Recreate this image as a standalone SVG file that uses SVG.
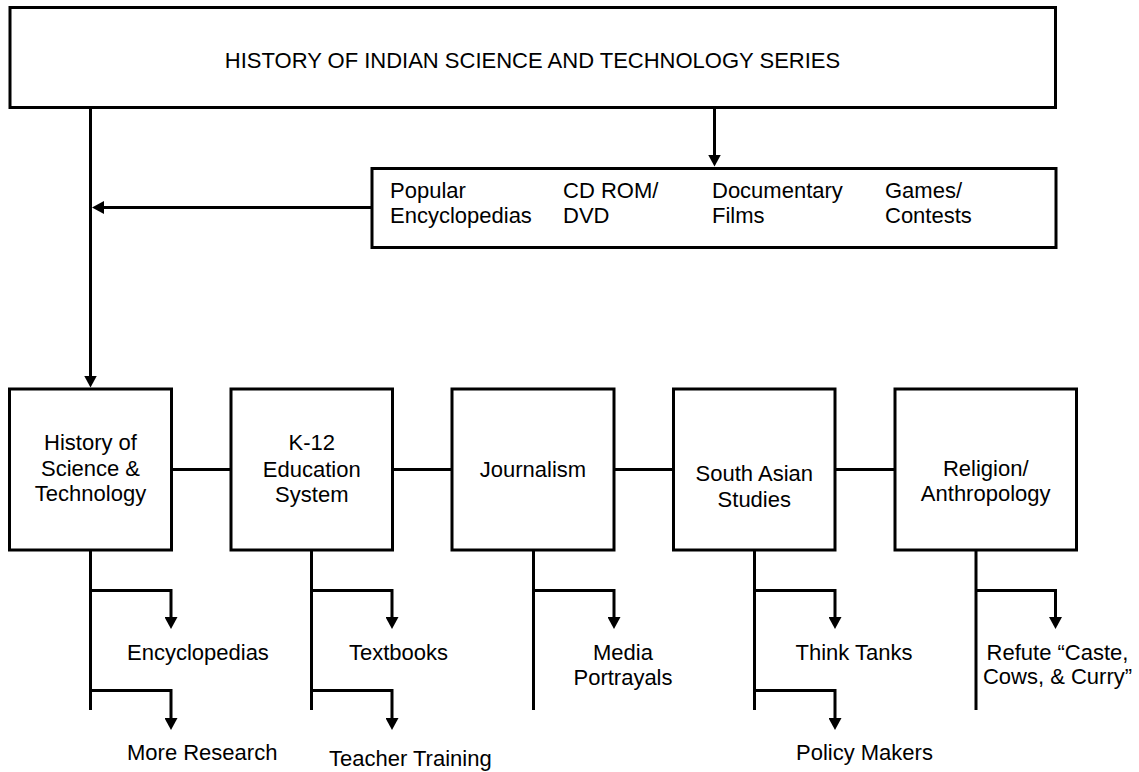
<svg xmlns="http://www.w3.org/2000/svg" width="1139" height="772" viewBox="0 0 1139 772">
<style>
  .box { fill: #fff; stroke: #000; stroke-width: 3; }
  .t { font-family: "Liberation Sans", Arial, sans-serif; font-size: 22px; fill: #000; }
  .c { text-anchor: middle; }
  .ln { fill: none; stroke: #000; stroke-width: 3; stroke-linejoin: miter; }
</style>
<defs>
  <marker id="arr" viewBox="0 0 12 13" refX="1" refY="6.5" markerWidth="12" markerHeight="13" markerUnits="userSpaceOnUse" orient="auto">
    <path d="M0,0 L12,6.5 L0,13 z" fill="#000"/>
  </marker>
</defs>
<rect width="1139" height="772" fill="#fff"/>
<g id="connectors">
  <path class="ln" d="M90.5,107 V376.5" marker-end="url(#arr)"/>
  <path class="ln" d="M714.5,107 V155.5" marker-end="url(#arr)"/>
  <path class="ln" d="M372,207.5 H103" marker-end="url(#arr)"/>
  <path class="ln" d="M171,469.5 H231 M392.5,469.5 H452 M614,469.5 H673.5 M835,469.5 H895"/>
  <path class="ln" d="M90.5,550 V710 M311.5,550 V710 M533.5,550 V710 M754.5,550 V710 M976,550 V710"/>
  <path class="ln" d="M90.5,590.5 H171 V618" marker-end="url(#arr)"/>
  <path class="ln" d="M90.5,690.5 H171 V719" marker-end="url(#arr)"/>
  <path class="ln" d="M311.5,590.5 H392 V618" marker-end="url(#arr)"/>
  <path class="ln" d="M311.5,690.5 H392 V719" marker-end="url(#arr)"/>
  <path class="ln" d="M533.5,590.5 H614 V618" marker-end="url(#arr)"/>
  <path class="ln" d="M754.5,590.5 H835 V618" marker-end="url(#arr)"/>
  <path class="ln" d="M754.5,690.5 H835 V719" marker-end="url(#arr)"/>
  <path class="ln" d="M976,590.5 H1055.5 V618" marker-end="url(#arr)"/>
</g>
<g id="series">
  <rect class="box" x="10" y="7.5" width="1045.5" height="100"/>
  <text class="t c" x="532.5" y="68">HISTORY OF INDIAN SCIENCE AND TECHNOLOGY SERIES</text>
</g>
<g id="media">
  <rect class="box" x="372" y="168.5" width="684" height="79"/>
  <text class="t" x="390" y="198">Popular</text>
  <text class="t" x="390" y="222.5">Encyclopedias</text>
  <text class="t" x="563" y="198">CD ROM/</text>
  <text class="t" x="563" y="222.5">DVD</text>
  <text class="t" x="712" y="198">Documentary</text>
  <text class="t" x="712" y="222.5">Films</text>
  <text class="t" x="885" y="198">Games/</text>
  <text class="t" x="885" y="222.5">Contests</text>
</g>
<g id="hist">
  <rect class="box" x="9.5" y="389" width="162" height="161"/>
  <text class="t c" x="90.5" y="450">History of</text>
  <text class="t c" x="90.5" y="476">Science &amp;</text>
  <text class="t c" x="90.5" y="501">Technology</text>
</g>
<g id="k12">
  <rect class="box" x="231" y="389" width="161.5" height="161"/>
  <text class="t c" x="311.8" y="450">K-12</text>
  <text class="t c" x="311.8" y="476.5">Education</text>
  <text class="t c" x="311.8" y="501.5">System</text>
</g>
<g id="journalism">
  <rect class="box" x="452" y="389" width="162" height="161"/>
  <text class="t c" x="533" y="476.5">Journalism</text>
</g>
<g id="southasian">
  <rect class="box" x="673.5" y="389" width="161.5" height="161"/>
  <text class="t c" x="754.3" y="481">South Asian</text>
  <text class="t c" x="754.3" y="507">Studies</text>
</g>
<g id="religion">
  <rect class="box" x="895" y="389" width="181.5" height="161"/>
  <text class="t c" x="985.7" y="476">Religion/</text>
  <text class="t c" x="985.7" y="501">Anthropology</text>
</g>
<g id="outputs">
  <text class="t" x="127" y="659.5">Encyclopedias</text>
  <text class="t" x="127" y="759.5">More Research</text>
  <text class="t" x="349" y="659.5">Textbooks</text>
  <text class="t" x="329" y="766">Teacher Training</text>
  <text class="t c" x="623" y="659.5">Media</text>
  <text class="t c" x="623" y="684.5">Portrayals</text>
  <text class="t" x="795.5" y="659.5">Think Tanks</text>
  <text class="t" x="796" y="759.5">Policy Makers</text>
  <text class="t c" x="1057.5" y="659.5">Refute “Caste,</text>
  <text class="t c" x="1057.5" y="684">Cows, &amp; Curry”</text>
</g>
</svg>
